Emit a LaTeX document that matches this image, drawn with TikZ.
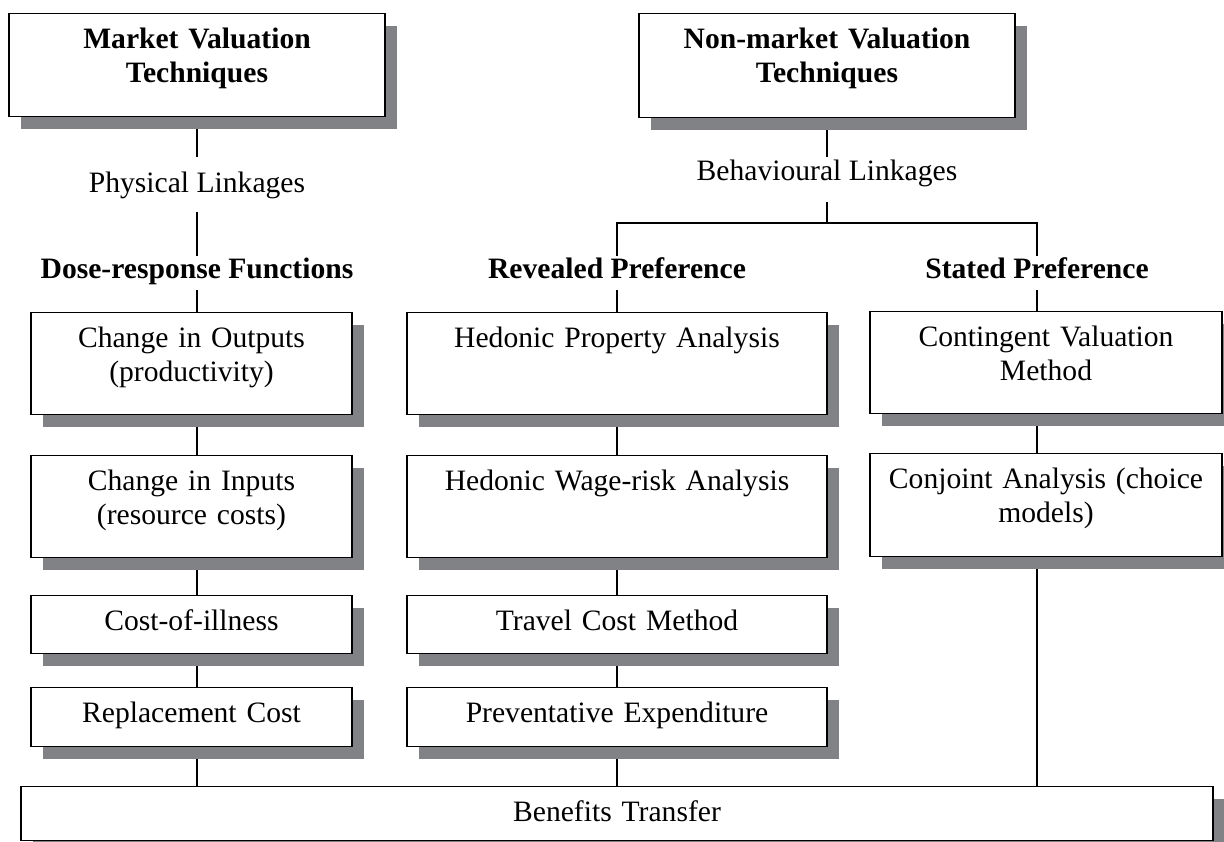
\documentclass[tikz,border=0pt]{standalone}
\usepackage{fontspec}
\setmainfont{Liberation Serif}
\usepackage{xcolor}
\usetikzlibrary{shadows,backgrounds}
\definecolor{shadegray}{RGB}{128,130,133}
\newcommand{\dfont}{\fontsize{14.8}{17}\selectfont}
\tikzset{
  box/.style={draw, line width=0.6pt, fill=white, align=center, inner sep=0pt,
    anchor=north, text height=17.5pt, font=\dfont,
    drop shadow={shadow xshift=6pt, shadow yshift=-6pt, fill=shadegray, opacity=1}},
  head/.style={font=\dfont\bfseries, inner sep=0pt, anchor=base, text height=11pt, text depth=6pt},
  link/.style={font=\dfont, inner sep=0pt, anchor=base},
  wire/.style={line width=0.7pt}
}
\begin{document}
\begin{tikzpicture}[x=0.5pt,y=-0.5pt]
       \useasboundingbox (0,0) rectangle (1224,841);
        %KOTAK ATAS
       \node[box, text width=188pt, text depth=34pt, font=\dfont\bfseries] (market) at (197,13) {Market Valuation\\Techniques};
       \node[box, text width=188pt, text depth=34.5pt, font=\dfont\bfseries] (nonmarket) at (827,13) {Non-market Valuation\\Techniques};
        %LINKAGES
       \node[link, text height=17.5pt, text depth=10pt] (phys) at (197,192) {Physical Linkages};
       \node[link, text height=11.5pt, text depth=11pt] (behav) at (827,180) {Behavioural Linkages};
       \coordinate (split) at (827,223);
        %JUDUL KOLOM
       \node[head] (dose) at (197,278) {Dose-response Functions};
       \node[head] (rev) at (617,278) {Revealed Preference};
       \node[head] (stat) at (1037,278) {Stated Preference};
        %KOLOM KIRI
       \node[box, text width=160.5pt, text depth=33.5pt] (outputs) at (191.5,312) {Change in Outputs\\(productivity)};
       \node[box, text width=160.5pt, text depth=33.5pt] (inputs) at (191.5,455) {Change in Inputs\\(resource costs)};
       \node[box, text width=160.5pt, text depth=11.5pt] (illness) at (191.5,595) {Cost-of-illness};
       \node[box, text width=160.5pt, text depth=12pt] (replace) at (191.5,687) {Replacement Cost};
        %KOLOM TENGAH
       \node[box, text width=210pt, text depth=33.5pt] (hedonic) at (617,312) {Hedonic Property Analysis};
       \node[box, text width=210pt, text depth=33.5pt] (wage) at (617,455) {Hedonic Wage-risk Analysis};
       \node[box, text width=210pt, text depth=11.5pt] (travel) at (617,595) {Travel Cost Method};
       \node[box, text width=210pt, text depth=12pt] (prevent) at (617,687) {Preventative Expenditure};
        %KOLOM KANAN
       \node[box, text width=176pt, text depth=33.5pt] (contingent) at (1046,311) {Contingent Valuation\\Method};
       \node[box, text width=176pt, text depth=34pt] (conjoint) at (1046,453) {Conjoint Analysis (choice\\models)};
        %KOTAK BAWAH
       \node[box, text width=596pt, text depth=9.5pt] (benefits) at (617,786) {Benefits Transfer};
        %GARIS
       \begin{pgfonlayer}{background}
       \fill[white] (0,0) rectangle (1224,841);
       \draw[wire] (market) -- (phys);
       \draw[wire] (phys) -- (dose);
       \draw[wire] (dose.south) -- (dose.south |- outputs.north);
       \draw[wire] (outputs.south -| dose) -- (inputs.north -| dose);
       \draw[wire] (inputs.south -| dose) -- (illness.north -| dose);
       \draw[wire] (illness.south -| dose) -- (replace.north -| dose);
       \draw[wire] (replace.south -| dose) -- (benefits.north -| dose);
       \draw[wire] (nonmarket) -- (behav);
       \draw[wire] (behav) -- (split);
       \draw[wire] (rev.north) |- (split) -| (stat.north);
       \draw[wire] (rev) -- (hedonic);
       \draw[wire] (hedonic) -- (wage);
       \draw[wire] (wage) -- (travel);
       \draw[wire] (travel) -- (prevent);
       \draw[wire] (prevent) -- (benefits);
       \draw[wire] (stat.south) -- (stat.south |- contingent.north);
       \draw[wire] (contingent.south -| stat) -- (conjoint.north -| stat);
       \draw[wire] (conjoint.south -| stat) -- (benefits.north -| stat);
       \end{pgfonlayer}
    \end{tikzpicture}
\end{document}
